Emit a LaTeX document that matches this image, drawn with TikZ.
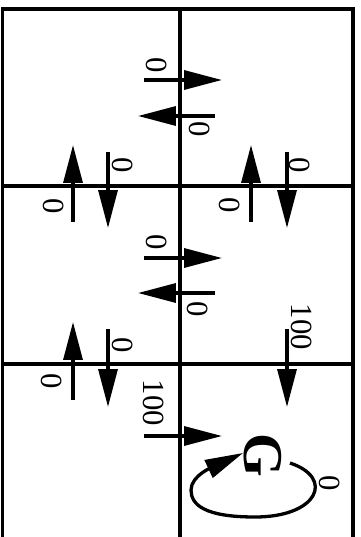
\documentclass[tikz,border=0pt]{standalone}
\usepackage{fontspec}
\setmainfont{Liberation Serif}
\usetikzlibrary{arrows.meta}
\tikzset{
  wall/.style={line width=0.066cm},
  act/.style={line width=0.066cm, -{Triangle[length=0.76cm,width=0.38cm]}},
  val/.style={rotate=-90, inner sep=0pt, font=\fontsize{17.5}{20}\selectfont},
  goal/.style={rotate=-90, inner sep=0pt, font=\fontsize{32}{36}\selectfont\bfseries},
  every picture/.style={line cap=butt, line join=miter}
}

\begin{document}
\begin{tikzpicture}[x=0.02cm, y=-0.02cm]
  \useasboundingbox (0,0) rectangle (360,537);

  % grid
  \draw[wall] (2.5,540) |- (353,9) -- (353,540);
  \draw[wall] (180,9) -- (180,540);
  \draw[wall] (2.5,186) -- (353,186);
  \draw[wall] (2.5,364) -- (353,364);

  % top row
  \coordinate (r1a) at (144,80);  \coordinate (r1b) at (222,80);
  \coordinate (l1a) at (215,116); \coordinate (l1b) at (138,116);
  \coordinate (u1a) at (73,222);  \coordinate (u1b) at (73,145);
  \coordinate (d1a) at (108,152); \coordinate (d1b) at (108,228);
  \coordinate (u2a) at (251,222); \coordinate (u2b) at (251,145);
  \coordinate (d2a) at (287,152); \coordinate (d2b) at (287,228);

  % middle row
  \coordinate (r2a) at (144,258); \coordinate (r2b) at (222,258);
  \coordinate (l2a) at (215,293); \coordinate (l2b) at (138,293);
  \coordinate (u3a) at (73,400);  \coordinate (u3b) at (73,322);
  \coordinate (d3a) at (108,329); \coordinate (d3b) at (108,407);
  \coordinate (d4a) at (287,329); \coordinate (d4b) at (287,407);

  % bottom row
  \coordinate (r3a) at (144,436); \coordinate (r3b) at (222,436);
  \node[goal] (G) at (263,455) {G};
  \coordinate (gout) at (290,463);
  \coordinate (gin) at (243,453);

  \draw[act] (r1a)--(r1b);
  \draw[act] (l1a)--(l1b);
  \draw[act] (u1a)--(u1b);
  \draw[act] (d1a)--(d1b);
  \draw[act] (u2a)--(u2b);
  \draw[act] (d2a)--(d2b);

  \draw[act] (r2a)--(r2b);
  \draw[act] (l2a)--(l2b);
  \draw[act] (u3a)--(u3b);
  \draw[act] (d3a)--(d3b);
  \draw[act] (d4a)--(d4b);

  \draw[act] (r3a)--(r3b);
  \draw[act] (gout) .. controls (335,478) and (318,517) .. (255,517)
    .. controls (205,517) and (191,505) .. (191,490)
    .. controls (191,475) and (215,466) .. (gin);

  % values
  \node[val] (vr1) at (157,65) {0};
  \node[val] (vl1) at (200,129) {0};
  \node[val] (vu1) at (54,206) {0};
  \node[val] (vd1) at (123,165) {0};
  \node[val] (vu2) at (230,205) {0};
  \node[val] (vd2) at (300,165) {0};

  \node[val] (vr2) at (157,242) {0};
  \node[val] (vl2) at (198,309) {0};
  \node[val] (vu3) at (52,381) {0};
  \node[val] (vd3) at (123,345) {0};
  \node[val] (vd4) at (302,327) {100};

  \node[val] (vr3) at (154,403) {100};
  \node[val] (vg) at (330,483) {0};
\end{tikzpicture}
\end{document}
